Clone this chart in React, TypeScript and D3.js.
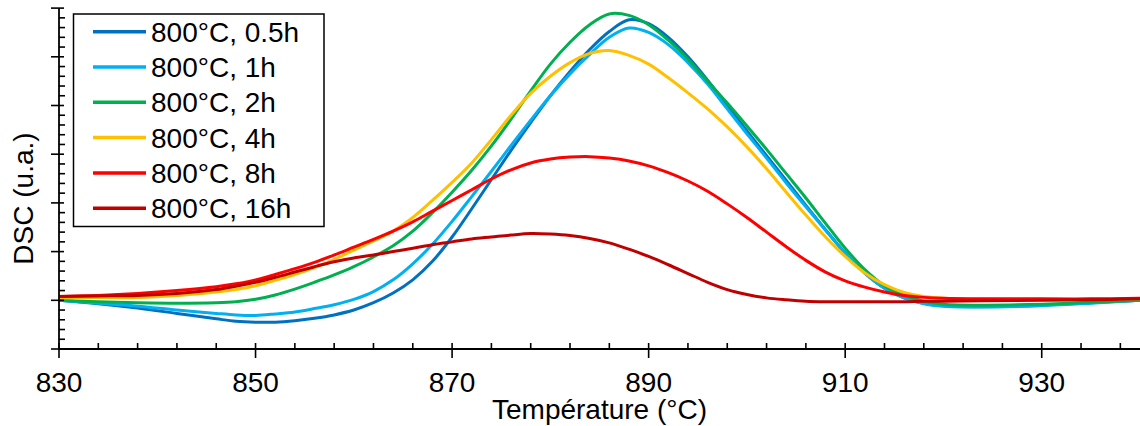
import React from "react";
import * as d3 from "d3";

const temps = [830,834,838,842,846,848,850,852,854,856,858,860,862,864,866,868,870,872,874,876,878,880,882,884,886,888,890,892,894,896,898,900,902,904,906,908,910,912,914,916,918,920,924,930,935,940];

const s05h = [0.0,-0.07,-0.16,-0.27,-0.38,-0.43,-0.45,-0.45,-0.42,-0.37,-0.3,-0.2,-0.05,0.15,0.42,0.8,1.3,1.88,2.48,3.08,3.65,4.2,4.7,5.15,5.52,5.76,5.68,5.4,5.0,4.52,4.0,3.48,2.97,2.46,1.95,1.45,0.97,0.56,0.25,0.05,-0.06,-0.11,-0.13,-0.1,-0.05,0.0];
const s1h = [0.0,-0.06,-0.12,-0.2,-0.27,-0.3,-0.31,-0.28,-0.24,-0.17,-0.09,0.02,0.18,0.42,0.75,1.15,1.62,2.13,2.65,3.18,3.7,4.2,4.65,5.05,5.4,5.59,5.5,5.25,4.88,4.44,3.93,3.42,2.92,2.41,1.92,1.44,0.97,0.56,0.25,0.05,-0.07,-0.12,-0.14,-0.11,-0.06,0.0];
const s2h = [0.0,-0.03,-0.05,-0.06,-0.05,-0.03,0.02,0.11,0.23,0.37,0.52,0.69,0.89,1.12,1.42,1.8,2.22,2.67,3.17,3.72,4.3,4.85,5.3,5.66,5.88,5.85,5.66,5.34,4.95,4.5,4.05,3.58,3.1,2.6,2.1,1.58,1.07,0.63,0.3,0.1,-0.02,-0.08,-0.1,-0.08,-0.04,0.0];
const s4h = [0.05,0.05,0.06,0.1,0.17,0.22,0.3,0.41,0.53,0.67,0.84,1.03,1.22,1.42,1.7,2.05,2.42,2.82,3.3,3.8,4.25,4.6,4.88,5.07,5.13,5.03,4.85,4.57,4.26,3.93,3.56,3.15,2.7,2.22,1.75,1.3,0.9,0.56,0.32,0.16,0.08,0.04,0.02,0.01,0.02,0.03];
const s8h = [0.08,0.1,0.14,0.2,0.28,0.34,0.42,0.53,0.65,0.78,0.93,1.09,1.25,1.42,1.61,1.83,2.05,2.27,2.49,2.68,2.82,2.9,2.94,2.95,2.92,2.86,2.76,2.62,2.45,2.24,1.98,1.7,1.4,1.1,0.82,0.58,0.4,0.27,0.17,0.1,0.06,0.04,0.03,0.03,0.03,0.04];
const s16h = [0.08,0.09,0.1,0.14,0.22,0.29,0.37,0.47,0.58,0.69,0.79,0.87,0.93,1.0,1.07,1.14,1.2,1.26,1.3,1.34,1.37,1.36,1.33,1.27,1.18,1.05,0.9,0.73,0.55,0.37,0.22,0.12,0.05,0.01,-0.02,-0.03,-0.03,-0.03,-0.03,-0.03,-0.02,-0.02,-0.01,0.0,0.01,0.03];

const seriesNames = ["800°C, 0.5h", "800°C, 1h", "800°C, 2h", "800°C, 4h", "800°C, 8h", "800°C, 16h"];
const seriesColors = ["#0070C0", "#00B0F0", "#00B050", "#FFC000", "#FF0000", "#C00000"];
const seriesValues = [s05h, s1h, s2h, s4h, s8h, s16h];

const xMajorTicks = [830, 850, 870, 890, 910, 930];
const xTitle = "Température (°C)";
const yTitle = "DSC (u.a.)";

const W = 1140;
const H = 426;
const FONT = "'Liberation Sans', Arial, sans-serif";

export default function App() {
  const x = d3.scaleLinear().domain([830, 940]).range([59, 1140]);
  const y = d3.scaleLinear().domain([-1, 6]).range([349, 8.1]);

  const line = d3
    .line<number>()
    .x((_, i) => x(temps[i]))
    .y((d) => y(d))
    .curve(d3.curveCatmullRom.alpha(0.5));

  const xMinor = d3.range(830, 941, 4).filter((t) => !xMajorTicks.includes(t));
  const yMajor = d3.range(-1, 6.01, 1);
  const yMinor = d3.range(-1, 6.001, 0.2).filter((v) => Math.abs(v - Math.round(v)) > 0.01);

  const axisColor = "#000";

  return (
    <svg
      width={W}
      height={H}
      style={{ position: "absolute", left: 0, top: 0, background: "#fff" }}
      fontFamily={FONT}
    >
      <rect x={0} y={0} width={W} height={H} fill="#fff" />
      {seriesValues.map((vals, i) => (
        <path
          key={i}
          d={line(vals) || ""}
          fill="none"
          stroke={seriesColors[i]}
          strokeWidth={3}
          strokeLinejoin="round"
        />
      ))}

      <line x1={x(830)} x2={x(830)} y1={y(6)} y2={y(-1)} stroke={axisColor} strokeWidth={1.8} />
      {yMajor.map((v) => (
        <line key={"ym" + v} x1={x(830) - 8} x2={x(830) + 5} y1={y(v)} y2={y(v)} stroke={axisColor} strokeWidth={1.6} />
      ))}
      {yMinor.map((v, i) => (
        <line key={"yn" + i} x1={x(830)} x2={x(830) + 6} y1={y(v)} y2={y(v)} stroke={axisColor} strokeWidth={1.6} />
      ))}

      <line x1={x(830)} x2={x(940)} y1={y(-1)} y2={y(-1)} stroke={axisColor} strokeWidth={1.8} />
      {xMajorTicks.map((t) => (
        <g key={"xm" + t}>
          <line x1={x(t)} x2={x(t)} y1={y(-1) - 6} y2={y(-1) + 9} stroke={axisColor} strokeWidth={1.6} />
          <text x={x(t)} y={392} textAnchor="middle" fontSize={28} fill="#000">
            {t}
          </text>
        </g>
      ))}
      {xMinor.map((t) => (
        <line key={"xn" + t} x1={x(t)} x2={x(t)} y1={y(-1) - 6} y2={y(-1)} stroke={axisColor} strokeWidth={1.6} />
      ))}

      <text x={(x(830) + x(940)) / 2} y={419} textAnchor="middle" fontSize={28} fill="#000">
        {xTitle}
      </text>
      <text
        transform={`translate(33,198.5) rotate(-90)`}
        textAnchor="middle"
        fontSize={28}
        fill="#000"
      >
        {yTitle}
      </text>

      <rect x={73.5} y={14} width={250.5} height={212.5} fill="#fff" stroke="#000" strokeWidth={1.5} />
      {seriesNames.map((name, i) => {
        const ly = 31.7 + i * 35.3;
        return (
          <g key={"lg" + i}>
            <line x1={93} x2={146} y1={ly} y2={ly} stroke={seriesColors[i]} strokeWidth={3.5} />
            <text x={151} y={ly + 10} fontSize={28} fill="#000">
              {name}
            </text>
          </g>
        );
      })}
    </svg>
  );
}
